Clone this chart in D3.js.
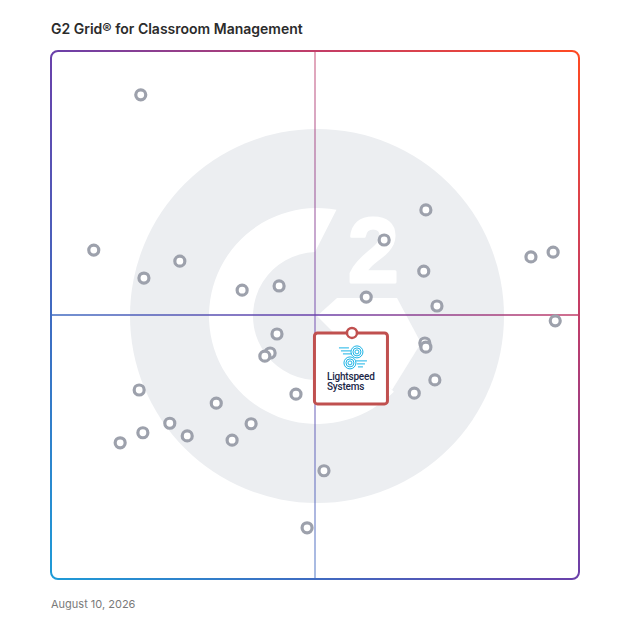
<!DOCTYPE html>
<html>
<head>
<meta charset="utf-8">
<script src="https://cdn.jsdelivr.net/npm/d3@7"></script>
<style>
  html, body { margin: 0; padding: 0; background: #fff; }
  svg { display: block; }
</style>
</head>
<body>
<svg id="chart" width="628" height="628"></svg>
<script>
// ---- data ----
const chartTitle = "G2 Grid® for Classroom Management";
const chartDate = "August 10, 2026";
// satisfaction (x) and market presence (y), 0-100
const satisfaction = [17.0, 8.1, 17.6, 24.4, 36.2, 43.2, 63.1, 71.0, 70.6, 59.7, 73.1, 90.9, 95.1, 95.5,
  42.8, 41.5, 40.5, 70.8, 71.0, 72.7, 68.8, 46.4, 16.7, 31.3, 22.5, 17.4, 25.8, 37.9, 34.3, 13.1, 51.7, 48.5];
const marketPresence = [91.7, 62.3, 57.0, 60.2, 54.7, 55.5, 64.2, 69.9, 58.3, 53.4, 51.7, 61.0, 61.9, 48.9,
  46.4, 42.8, 42.2, 44.7, 43.9, 37.7, 35.2, 35.0, 35.8, 33.3, 29.5, 27.7, 27.1, 29.4, 26.3, 25.8, 20.5, 9.7];
const highlightName = ["Lightspeed", "Systems"];
const highlightX = 57.0;
const highlightY = 46.8;

// ---- layout ----
const svg = d3.select("#chart");
const L = 51, R = 579, T = 51, B = 579;
const x = d3.scaleLinear().domain([0, 100]).range([L, R]);
const y = d3.scaleLinear().domain([0, 100]).range([B, T]);

const defs = svg.append("defs");
const grad = defs.append("linearGradient")
  .attr("id", "edge").attr("gradientUnits", "userSpaceOnUse")
  .attr("x1", L).attr("y1", B).attr("x2", R).attr("y2", T);
[[0, "#1e9bd7"], [0.25, "#3f6bc1"], [0.5, "#6a40aa"], [0.75, "#c23d68"], [1, "#ff4a22"]]
  .forEach(([o, c]) => grad.append("stop").attr("offset", o).attr("stop-color", c));

// ---- background G2 mark ----
const cx = x(50) + 2, cy = y(50) + 1;
const grey = "#eceef1";
const bg = svg.append("g");
bg.append("circle").attr("cx", cx).attr("cy", cy).attr("r", 187).attr("fill", grey);
const rad = d => (d - 90) * Math.PI / 180; // clockwise-from-north -> math angle
const rOut = 108, rIn = 64;
const p = d3.path();
const a0 = 134.6, a1 = 370.4, b1 = 358.2;
p.moveTo(cx + rOut * Math.cos(rad(a0)), cy + rOut * Math.sin(rad(a0)));
p.arc(cx, cy, rOut, rad(a0), rad(a1), false);
p.lineTo(cx + rIn * Math.cos(rad(b1)), cy + rIn * Math.sin(rad(b1)));
p.arc(cx, cy, rIn, rad(b1), rad(a0), true);
p.closePath();
bg.append("path").attr("d", p.toString()).attr("fill", "#fff");
const chev = [[20, -18], [80, -18], [104, 27], [75, 74], [45, 45], [0, 0]];
bg.append("polygon")
  .attr("points", chev.map(([dx, dy]) => `${cx + dx},${cy + dy}`).join(" "))
  .attr("fill", "#fff");
bg.append("text").attr("x", cx + 31).attr("y", cy - 34)
  .attr("font-family", "Liberation Sans, Arial, sans-serif").attr("font-weight", 700)
  .attr("font-size", 91).attr("fill", "#fff")
  .attr("stroke", "#fff").attr("stroke-width", 3).attr("stroke-linejoin", "round")
  .text("2");

// ---- quadrant lines ----
svg.append("line").attr("x1", x(50)).attr("x2", x(50)).attr("y1", T).attr("y2", B)
  .attr("stroke", "url(#edge)").attr("stroke-width", 1.5).attr("opacity", 0.6);
svg.append("line").attr("x1", L).attr("x2", R).attr("y1", y(50)).attr("y2", y(50))
  .attr("stroke", "url(#edge)").attr("stroke-width", 1.5);

// ---- border ----
svg.append("rect").attr("x", L).attr("y", T).attr("width", R - L).attr("height", B - T)
  .attr("rx", 7).attr("fill", "none").attr("stroke", "url(#edge)").attr("stroke-width", 2);

// ---- points ----
const pts = satisfaction.map((s, i) => ({ s, m: marketPresence[i] }));
svg.append("g").selectAll("circle").data(pts).join("circle")
  .attr("cx", d => x(d.s)).attr("cy", d => y(d.m)).attr("r", 5)
  .attr("fill", "#fff").attr("stroke", "#9da1ac").attr("stroke-width", 3.2);

// ---- highlighted product ----
const hx = x(highlightX), hy = y(highlightY);
const hg = svg.append("g");
hg.append("rect").attr("x", hx - 37.5).attr("y", hy + 1).attr("width", 73).attr("height", 71)
  .attr("rx", 3).attr("fill", "#fff").attr("stroke", "#c0504f").attr("stroke-width", 3);
// logo icon
const ic = hg.append("g").attr("fill", "none").attr("stroke", "#1ab3e6").attr("stroke-width", 1);
const icx = hx + 1, icy = hy + 25;
[2, 4, 6].forEach(r => {
  ic.append("circle").attr("cx", icx + 4).attr("cy", icy - 5).attr("r", r);
  ic.append("circle").attr("cx", icx - 3).attr("cy", icy + 6).attr("r", r);
});
[[-14, -4, -4], [-12, -2, -1], [-10, -1, 2]].forEach(([a, b, dy]) =>
  ic.append("line").attr("x1", icx + a).attr("x2", icx + b).attr("y1", icy - 5 + dy).attr("y2", icy - 5 + dy));
[[3, 14, -2], [4, 12, 1], [5, 10, 4]].forEach(([a, b, dy]) =>
  ic.append("line").attr("x1", icx + a).attr("x2", icx + b).attr("y1", icy + 6 + dy).attr("y2", icy + 6 + dy));
hg.append("text").attr("x", hx - 25).attr("y", hy + 48)
  .attr("font-family", "Roboto, sans-serif").attr("font-weight", 500).attr("font-size", 10)
  .attr("fill", "#1b2748").attr("letter-spacing", -0.2)
  .text(highlightName[0]);
hg.append("text").attr("x", hx - 25).attr("y", hy + 58)
  .attr("font-family", "Roboto, sans-serif").attr("font-weight", 500).attr("font-size", 10)
  .attr("fill", "#1b2748").attr("letter-spacing", -0.2)
  .text(highlightName[1]);
hg.append("circle").attr("cx", hx).attr("cy", hy + 1).attr("r", 5)
  .attr("fill", "#fff").attr("stroke", "#c0504f").attr("stroke-width", 2.5);

// ---- title & date ----
svg.append("text").attr("x", L).attr("y", 34)
  .attr("font-family", "Inter, sans-serif").attr("font-weight", 600).attr("font-size", 14)
  .attr("fill", "#2b2b2b").text(chartTitle);
svg.append("text").attr("x", L).attr("y", 608)
  .attr("font-family", "Inter, sans-serif").attr("font-size", 11).attr("fill", "#7a7a7a")
  .text(chartDate);
</script>
</body>
</html>
